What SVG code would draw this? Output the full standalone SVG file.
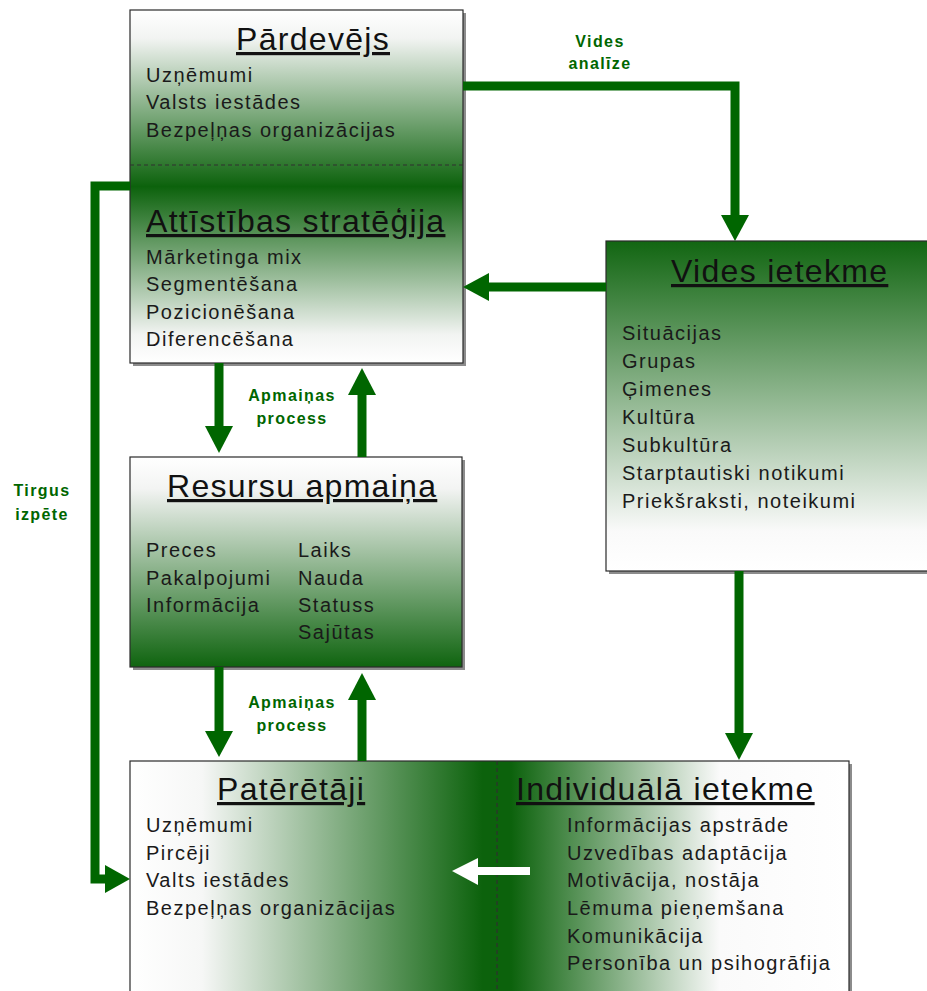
<svg xmlns="http://www.w3.org/2000/svg" width="927" height="991" viewBox="0 0 927 991">
  <style>
    .box { stroke: #2a2a2a; stroke-width: 1.2; }
    .shadow { fill: #8c8c8c; }
    .title { font-family: "Liberation Sans", Arial, sans-serif; font-size: 32px; letter-spacing: 1.3px; fill: #111; text-decoration: underline; }
    .item { font-family: "Liberation Sans", Arial, sans-serif; font-size: 20px; letter-spacing: 1.5px; fill: #1a1a1a; }
    .label { font-family: "Liberation Sans", Arial, sans-serif; font-size: 16px; font-weight: bold; letter-spacing: 1.4px; fill: #006600; text-anchor: middle; }
    .wire { fill: none; stroke: #006600; stroke-width: 9; stroke-linejoin: miter; stroke-linecap: butt; }
    .head { fill: #006600; }
    .dash { stroke: #303030; stroke-width: 1.2; stroke-dasharray: 4 3; }
  </style>
  <defs>
    <linearGradient id="gSeller" x1="0" y1="0" x2="0" y2="1">
      <stop offset="0" stop-color="#ffffff"/>
      <stop offset="0.08" stop-color="#f2f4f2"/>
      <stop offset="0.5" stop-color="#0c620c"/>
      <stop offset="0.92" stop-color="#f2f4f2"/>
      <stop offset="1" stop-color="#ffffff"/>
    </linearGradient>
    <linearGradient id="gEnv" x1="0" y1="0" x2="0" y2="1">
      <stop offset="0" stop-color="#126612"/>
      <stop offset="0.88" stop-color="#fafafa"/>
      <stop offset="1" stop-color="#ffffff"/>
    </linearGradient>
    <linearGradient id="gRes" x1="0" y1="0" x2="0" y2="1">
      <stop offset="0" stop-color="#ffffff"/>
      <stop offset="0.15" stop-color="#f3f4f3"/>
      <stop offset="1" stop-color="#0f640f"/>
    </linearGradient>
    <linearGradient id="gCons" x1="0" y1="0" x2="1" y2="0">
      <stop offset="0" stop-color="#ffffff"/>
      <stop offset="0.1" stop-color="#f6f7f6"/>
      <stop offset="0.49" stop-color="#0c620c"/>
      <stop offset="0.53" stop-color="#0c620c"/>
      <stop offset="0.82" stop-color="#fafafa"/>
      <stop offset="1" stop-color="#ffffff"/>
    </linearGradient>
  </defs>

  <!-- Seller / development strategy -->
  <g id="seller">
    <rect class="shadow" x="133" y="13" width="333" height="353"/>
    <rect class="box" x="130" y="10" width="333" height="353" fill="url(#gSeller)"/>
    <line class="dash" x1="130" y1="165" x2="463" y2="165"/>
    <text class="title" x="236" y="50">Pārdevējs</text>
    <text class="item" x="146" y="82">Uzņēmumi</text>
    <text class="item" x="146" y="109">Valsts iestādes</text>
    <text class="item" x="146" y="137">Bezpeļņas organizācijas</text>
    <text class="title" x="146" y="232">Attīstības stratēģija</text>
    <text class="item" x="146" y="264">Mārketinga mix</text>
    <text class="item" x="146" y="291">Segmentēšana</text>
    <text class="item" x="146" y="319">Pozicionēšana</text>
    <text class="item" x="146" y="346">Diferencēšana</text>
  </g>

  <!-- Environmental influence -->
  <g id="environment">
    <rect class="shadow" x="609" y="244" width="330" height="330"/>
    <rect class="box" x="606" y="241" width="330" height="330" fill="url(#gEnv)"/>
    <text class="title" x="671" y="282">Vides ietekme</text>
    <text class="item" x="622" y="340">Situācijas</text>
    <text class="item" x="622" y="368">Grupas</text>
    <text class="item" x="622" y="396">Ģimenes</text>
    <text class="item" x="622" y="424">Kultūra</text>
    <text class="item" x="622" y="452">Subkultūra</text>
    <text class="item" x="622" y="480">Starptautiski notikumi</text>
    <text class="item" x="622" y="508">Priekšraksti, noteikumi</text>
  </g>

  <!-- Resource exchange -->
  <g id="resources">
    <rect class="shadow" x="133" y="460" width="332" height="210"/>
    <rect class="box" x="130" y="457" width="332" height="210" fill="url(#gRes)"/>
    <text class="title" x="167" y="497">Resursu apmaiņa</text>
    <text class="item" x="146" y="557">Preces</text>
    <text class="item" x="146" y="585">Pakalpojumi</text>
    <text class="item" x="146" y="612">Informācija</text>
    <text class="item" x="298" y="557">Laiks</text>
    <text class="item" x="298" y="585">Nauda</text>
    <text class="item" x="298" y="612">Statuss</text>
    <text class="item" x="298" y="639">Sajūtas</text>
  </g>

  <!-- Consumers / individual influence -->
  <g id="consumers">
    <rect class="shadow" x="133" y="764" width="719" height="240"/>
    <rect class="box" x="130" y="761" width="719" height="240" fill="url(#gCons)"/>
    <line class="dash" x1="497" y1="761" x2="497" y2="991"/>
    <text class="title" x="217" y="800">Patērētāji</text>
    <text class="item" x="146" y="832">Uzņēmumi</text>
    <text class="item" x="146" y="860">Pircēji</text>
    <text class="item" x="146" y="887">Valts iestādes</text>
    <text class="item" x="146" y="915">Bezpeļņas organizācijas</text>
    <text class="title" x="516" y="800">Individuālā ietekme</text>
    <text class="item" x="567" y="832">Informācijas apstrāde</text>
    <text class="item" x="567" y="860">Uzvedības adaptācija</text>
    <text class="item" x="567" y="887">Motivācija, nostāja</text>
    <text class="item" x="567" y="915">Lēmuma pieņemšana</text>
    <text class="item" x="567" y="943">Komunikācija</text>
    <text class="item" x="567" y="970">Personība un psihogrāfija</text>
    <!-- white arrow inside the box -->
    <rect x="477" y="867" width="53" height="8" fill="#ffffff"/>
    <polygon points="452,871 478,858 478,885" fill="#ffffff"/>
  </g>

  <!-- Connectors -->
  <g id="connectors">
    <polyline class="wire" points="463,86 735,86 735,216"/>
    <polygon class="head" points="721,215 749,215 735,241"/>

    <polyline class="wire" points="606,287 488,287"/>
    <polygon class="head" points="489,273 489,301 463,287"/>

    <polyline class="wire" points="130,186 95,186 95,879 106,879"/>
    <polygon class="head" points="105,865 105,893 130,879"/>

    <polyline class="wire" points="219,363 219,427"/>
    <polygon class="head" points="205,426 233,426 219,453"/>
    <polyline class="wire" points="362,457 362,394"/>
    <polygon class="head" points="348,395 376,395 362,368"/>

    <polyline class="wire" points="219,667 219,732"/>
    <polygon class="head" points="205,731 233,731 219,757"/>
    <polyline class="wire" points="362,761 362,699"/>
    <polygon class="head" points="348,700 376,700 362,673"/>

    <polyline class="wire" points="739,571 739,734"/>
    <polygon class="head" points="725,733 753,733 739,760"/>

    <text class="label" x="600" y="47">Vides</text>
    <text class="label" x="600" y="69">analīze</text>
    <text class="label" x="42" y="496">Tirgus</text>
    <text class="label" x="42" y="520">izpēte</text>
    <text class="label" x="292" y="401">Apmaiņas</text>
    <text class="label" x="292" y="424">process</text>
    <text class="label" x="292" y="708">Apmaiņas</text>
    <text class="label" x="292" y="731">process</text>
  </g>
</svg>
